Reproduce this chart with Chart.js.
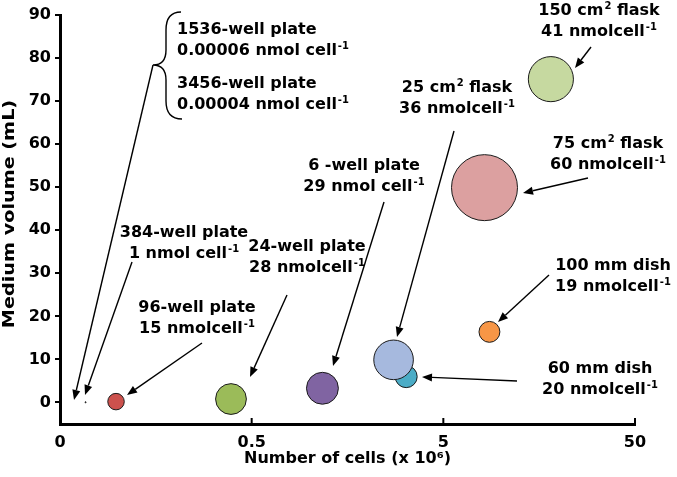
<!DOCTYPE html>
<html>
<head>
<meta charset="utf-8">
<script src="https://cdn.jsdelivr.net/npm/chart.js@4.4.1/dist/chart.umd.min.js"></script>
<style>
  html, body { margin: 0; padding: 0; background: #fff; }
  #wrap { width: 677px; height: 477px; }
</style>
</head>
<body>
<div id="wrap"><canvas id="chart"></canvas></div>
<script>
// vessel formats, drawn in this order (60 mm dish sits behind the 25 cm2 flask)
const vessels      = ['3456-well plate', '1536-well plate', '384-well plate', '96-well plate', '24-well plate',
                      '6-well plate', '60 mm dish', '25 cm2 flask', '100 mm dish', '75 cm2 flask', '150 cm2 flask'];
const cellsMillion = [0.058, 0.06, 0.068, 0.098, 0.39, 1.17, 3.2, 2.75, 8.7, 8.2, 18.2];
const volumeMl     = [0.01, 0.01, 0.05, 0.2, 0.8, 3.3, 6.0, 9.9, 16.4, 49.9, 75.1];
const nmolPerCell  = [0.00004, 0.00006, 1, 15, 28, 29, 20, 36, 19, 60, 41];

const xTicks      = [0.05, 0.5, 5, 50];
const xTickLabels = ['0', '0.5', '5', '50'];
const yTicks      = [0, 10, 20, 30, 40, 50, 60, 70, 80, 90];

const fills = ['#888888', '#888888', '#222222', '#cc514d', '#9bbb59', '#8064a2',
               '#4bacc6', '#a6b9de', '#f79646', '#dca0a0', '#c6d9a0'];
const R_PER_NMOL = 0.55;  // bubble radius follows nmol per cell

const FAMILY = 'DejaVu Sans';
const LABEL_FONT = 'bold 16px "DejaVu Sans"';
const SUP_FONT = 'bold 10px "DejaVu Sans"';

// callouts: text lines ('^' marks a superscript), first baseline, arrow from -> tip
const notes = [
  { lines: ['1536-well plate', '0.00006 nmol cell^-1'], x: 177, y: 34, align: 'left' },
  { lines: ['3456-well plate', '0.00004 nmol cell^-1'], x: 177, y: 88, align: 'left' },
  { lines: ['384-well plate', '1 nmol cell^-1'], x: 184, y: 237, arrow: [132, 262, 85, 395] },
  { lines: ['96-well plate', '15 nmolcell^-1'], x: 197, y: 312, arrow: [202, 343, 127, 395] },
  { lines: ['24-well plate', '28 nmolcell^-1'], x: 307, y: 251, arrow: [287, 295, 250, 377] },
  { lines: ['6 -well plate', '29 nmol cell^-1'], x: 364, y: 170, arrow: [384, 202, 333, 366] },
  { lines: ['25 cm^2 flask', '36 nmolcell^-1'], x: 457, y: 92, arrow: [454, 131, 397, 337] },
  { lines: ['150 cm^2 flask', '41 nmolcell^-1'], x: 599, y: 15, arrow: [591, 47, 575, 68] },
  { lines: ['75 cm^2 flask', '60 nmolcell^-1'], x: 608, y: 148, arrow: [588, 178, 523, 193] },
  { lines: ['100 mm dish', '19 nmolcell^-1'], x: 613, y: 270, arrow: [549, 275, 498, 322] },
  { lines: ['60 mm dish', '20 nmolcell^-1'], x: 600, y: 373, arrow: [517, 381, 422, 377] }
];
const LINE_H = 20.5;
const Y_TITLE = 'Medium volume (mL)';

function richParts(str) {
  const parts = [];
  str.split(/(\^\S+)/).forEach(s => {
    if (!s) return;
    if (s[0] === '^') parts.push({ t: s.slice(1), sup: true });
    else parts.push({ t: s, sup: false });
  });
  return parts;
}

function drawRich(ctx, str, x, y, align) {
  const parts = richParts(str);
  let w = 0;
  parts.forEach(p => {
    ctx.font = p.sup ? SUP_FONT : LABEL_FONT;
    p.w = ctx.measureText(p.t).width + (p.sup ? 1 : 0);
    w += p.w;
  });
  let cx = align === 'left' ? x : x - w / 2;
  parts.forEach(p => {
    ctx.font = p.sup ? SUP_FONT : LABEL_FONT;
    ctx.fillText(p.t, cx + (p.sup ? 1 : 0), p.sup ? y - 6 : y);
    cx += p.w;
  });
}

function arrow(ctx, x1, y1, x2, y2) {
  const a = Math.atan2(y2 - y1, x2 - x1), L = 10, W = 4;
  const bx = x2 - L * Math.cos(a), by = y2 - L * Math.sin(a);
  ctx.beginPath(); ctx.moveTo(x1, y1); ctx.lineTo(bx, by); ctx.stroke();
  ctx.beginPath();
  ctx.moveTo(x2, y2);
  ctx.lineTo(bx - W * Math.sin(a), by + W * Math.cos(a));
  ctx.lineTo(bx + W * Math.sin(a), by - W * Math.cos(a));
  ctx.closePath(); ctx.fill();
}

const callouts = {
  id: 'callouts',
  afterDraw(chart) {
    const { ctx, chartArea: area, scales: { x } } = chart;
    ctx.save();
    ctx.fillStyle = '#000';
    ctx.strokeStyle = '#000';
    ctx.textBaseline = 'alphabetic';

    // inward x ticks
    ctx.lineWidth = 2;
    xTicks.slice(1).forEach(v => {
      const px = x.getPixelForValue(v);
      ctx.beginPath(); ctx.moveTo(px, area.bottom); ctx.lineTo(px, area.bottom - 6); ctx.stroke();
    });

    // y title, stretched along its length like the source
    ctx.save();
    ctx.translate(10, 214);
    ctx.rotate(-Math.PI / 2);
    ctx.scale(1.2, 1);
    ctx.font = LABEL_FONT;
    ctx.textAlign = 'center';
    ctx.textBaseline = 'middle';
    ctx.fillText(Y_TITLE, 0, 0);
    ctx.restore();

    ctx.lineWidth = 1.4;
    notes.forEach(n => {
      n.lines.forEach((ln, i) => drawRich(ctx, ln, n.x, n.y + i * LINE_H, n.align));
      if (n.arrow) arrow(ctx, ...n.arrow);
    });

    // brace grouping the two tiny plates
    ctx.beginPath();
    ctx.moveTo(181, 12);
    ctx.quadraticCurveTo(166, 12, 166, 30);
    ctx.lineTo(166, 50);
    ctx.quadraticCurveTo(166, 65, 153, 65);
    ctx.quadraticCurveTo(166, 65, 166, 80);
    ctx.lineTo(166, 101);
    ctx.quadraticCurveTo(166, 119, 182, 119);
    ctx.stroke();
    arrow(ctx, 153, 65, 74, 400);
    ctx.restore();
  }
};

Chart.defaults.font.family = FAMILY;
Chart.defaults.color = '#000';

const axisFont = { family: FAMILY, size: 16, weight: 'bold' };

new Chart(document.getElementById('chart'), {
  type: 'bubble',
  data: {
    labels: vessels,
    datasets: [{
      data: vessels.map((v, i) => ({ x: cellsMillion[i], y: volumeMl[i], r: nmolPerCell[i] * R_PER_NMOL })),
      backgroundColor: fills,
      borderColor: '#1a1a1a',
      borderWidth: 1,
      hoverRadius: 0
    }]
  },
  options: {
    responsive: true, maintainAspectRatio: false, animation: false,
    layout: { padding: { top: 15, right: 42, left: 0, bottom: 0 }, autoPadding: false },
    plugins: { legend: { display: false }, tooltip: { enabled: false } },
    scales: {
      x: {
        type: 'logarithmic', min: 0.05, max: 50,
        afterBuildTicks: s => { s.ticks = xTicks.map(v => ({ value: v })); },
        afterFit: s => { s.height = 53; },
        grid: { display: false, drawTicks: false },
        border: { display: true, color: '#000', width: 3 },
        ticks: { color: '#000', font: axisFont, padding: 9, maxRotation: 0, autoSkip: false,
                 callback: (v, i) => xTickLabels[i] },
        title: { display: true, text: 'Number of cells (x 10⁶)', color: '#000', font: axisFont,
                 padding: { top: 0, bottom: 9 } }
      },
      y: {
        min: -5, max: 90,
        afterBuildTicks: s => { s.ticks = yTicks.map(v => ({ value: v })); },
        afterFit: s => { s.width = 60; },
        grid: { drawOnChartArea: false, color: '#000', lineWidth: 2, tickLength: 5 },
        border: { color: '#000', width: 3 },
        ticks: { color: '#000', font: axisFont, padding: 4, callback: v => v },
        title: { display: false }
      }
    }
  },
  plugins: [callouts]
});
</script>
</body>
</html>
